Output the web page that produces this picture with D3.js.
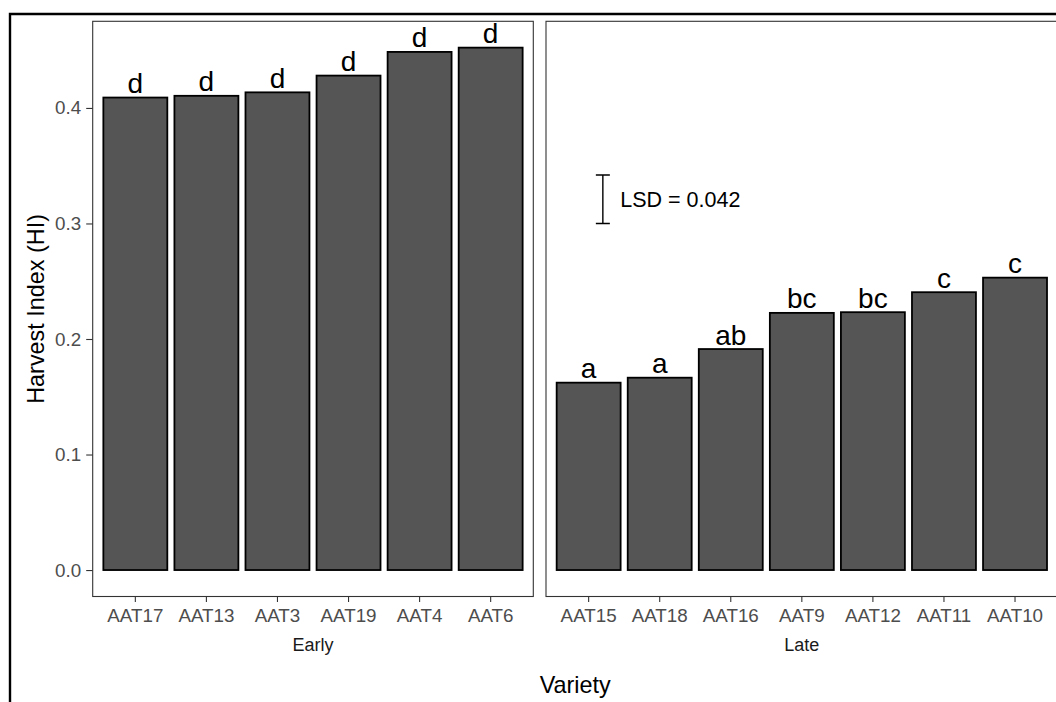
<!DOCTYPE html>
<html>
<head>
<meta charset="utf-8">
<script src="https://cdn.jsdelivr.net/npm/d3@7"></script>
<style>
  html, body { margin: 0; padding: 0; background: #fff; }
  svg { display: block; font-family: "Liberation Sans", Arial, Helvetica, sans-serif; }
</style>
</head>
<body>
<svg id="chart" width="1056" height="702"></svg>
<script>
// ---- data ----
const earlyVarieties = ["AAT17", "AAT13", "AAT3", "AAT19", "AAT4", "AAT6"];
const earlyHI        = [0.409, 0.4105, 0.4135, 0.428, 0.4485, 0.4522];
const earlyLetters   = ["d", "d", "d", "d", "d", "d"];

const lateVarieties  = ["AAT15", "AAT18", "AAT16", "AAT9", "AAT12", "AAT11", "AAT10"];
const lateHI         = [0.1622, 0.1665, 0.1913, 0.2226, 0.2232, 0.2405, 0.2531];
const lateLetters    = ["a", "a", "ab", "bc", "bc", "c", "c"];

const groupLabels = ["Early", "Late"];
const yTicks = [0.0, 0.1, 0.2, 0.3, 0.4];
const lsdValue = 0.042;
const lsdBase = 0.3;
const lsdLabel = "LSD = 0.042";

// ---- layout ----
const svg = d3.select("#chart");
const panelTop = 21.3, panelBottom = 596.5;
const leftX0 = 92.7, leftX1 = 533.3;
const unit = (leftX1 - leftX0) / (earlyVarieties.length + 0.2);
const rightX0 = 546, rightX1 = rightX0 + unit * (lateVarieties.length + 0.2);

const y = d3.scaleLinear().domain([-0.0229, 0.475]).range([panelBottom, panelTop]);

const xL = d3.scaleBand().domain(earlyVarieties).range([leftX0, leftX1])
  .paddingInner(0.1).paddingOuter(0.15);
const xR = d3.scaleBand().domain(lateVarieties).range([rightX0, rightX1])
  .paddingInner(0.1).paddingOuter(0.15);

// outer frame (cropped)
svg.append("path")
  .attr("d", `M10,720 L10,14 L1070,14`)
  .attr("fill", "none").attr("stroke", "#000").attr("stroke-width", 2.4);

function drawPanel(x, names, values, letters, x0, x1, label) {
  const g = svg.append("g");
  g.append("rect")
    .attr("x", x0).attr("y", panelTop)
    .attr("width", x1 - x0).attr("height", panelBottom - panelTop)
    .attr("fill", "#fff");

  const data = names.map((n, i) => ({ n, v: values[i], l: letters[i] }));
  g.selectAll("rect.bar").data(data).join("rect")
    .attr("class", "bar")
    .attr("x", d => x(d.n)).attr("width", x.bandwidth())
    .attr("y", d => y(d.v)).attr("height", d => y(0) - y(d.v))
    .attr("fill", "#555555").attr("stroke", "#000").attr("stroke-width", 1.8);

  g.selectAll("text.lab").data(data).join("text")
    .attr("class", "lab")
    .attr("x", d => x(d.n) + x.bandwidth() / 2)
    .attr("y", d => y(d.v) - 4.5)
    .attr("text-anchor", "middle")
    .attr("font-size", 28).attr("fill", "#000")
    .text(d => d.l);

  g.append("rect")
    .attr("x", x0).attr("y", panelTop)
    .attr("width", x1 - x0).attr("height", panelBottom - panelTop)
    .attr("fill", "none").attr("stroke", "#333").attr("stroke-width", 1.1);

  const ax = svg.append("g")
    .attr("transform", `translate(0,${panelBottom})`)
    .call(d3.axisBottom(x).tickSize(5.5).tickPadding(7).tickSizeOuter(0));
  ax.select(".domain").remove();
  ax.selectAll("line").attr("stroke", "#333").attr("stroke-width", 1.1);
  ax.selectAll("text").attr("font-size", 18.8).attr("fill", "#4d4d4d")
    .attr("font-family", "Liberation Sans, Arial, sans-serif");

  svg.append("text")
    .attr("x", (x0 + x1) / 2).attr("y", 650.7)
    .attr("text-anchor", "middle").attr("font-size", 18).attr("fill", "#1a1a1a")
    .text(label);
}

drawPanel(xL, earlyVarieties, earlyHI, earlyLetters, leftX0, leftX1, groupLabels[0]);
drawPanel(xR, lateVarieties, lateHI, lateLetters, rightX0, rightX1, groupLabels[1]);

// y axis
const ay = svg.append("g")
  .attr("transform", `translate(${leftX0},0)`)
  .call(d3.axisLeft(y).tickValues(yTicks).tickFormat(d3.format(".1f")).tickSize(6.5).tickPadding(5));
ay.select(".domain").remove();
ay.selectAll("line").attr("stroke", "#333").attr("stroke-width", 1.1);
ay.selectAll("text").attr("font-size", 18.8).attr("fill", "#4d4d4d")
  .attr("font-family", "Liberation Sans, Arial, sans-serif");

// LSD bar
const lsdX = xR(lateVarieties[0]) + xR.bandwidth() / 2 + 0.2 * xR.step();
const capW = 7;
const yTop = y(lsdBase + lsdValue), yBot = y(lsdBase);
svg.append("path")
  .attr("d", `M${lsdX - capW},${yTop} H${lsdX + capW} M${lsdX},${yTop} V${yBot} M${lsdX - capW},${yBot} H${lsdX + capW}`)
  .attr("stroke", "#000").attr("stroke-width", 1.4).attr("fill", "none");
svg.append("text")
  .attr("x", lsdX + 0.245 * xR.step()).attr("y", (yTop + yBot) / 2)
  .attr("dy", "0.35em").attr("font-size", 21.5).attr("fill", "#000")
  .text(lsdLabel);

// axis titles
svg.append("text")
  .attr("x", (leftX0 + rightX1) / 2).attr("y", 693.3)
  .attr("text-anchor", "middle").attr("font-size", 23.4).attr("fill", "#000")
  .text("Variety");
svg.append("text")
  .attr("transform", `translate(44,${(panelTop + panelBottom) / 2}) rotate(-90)`)
  .attr("text-anchor", "middle").attr("font-size", 23.4).attr("fill", "#000")
  .text("Harvest Index (HI)");
</script>
</body>
</html>
